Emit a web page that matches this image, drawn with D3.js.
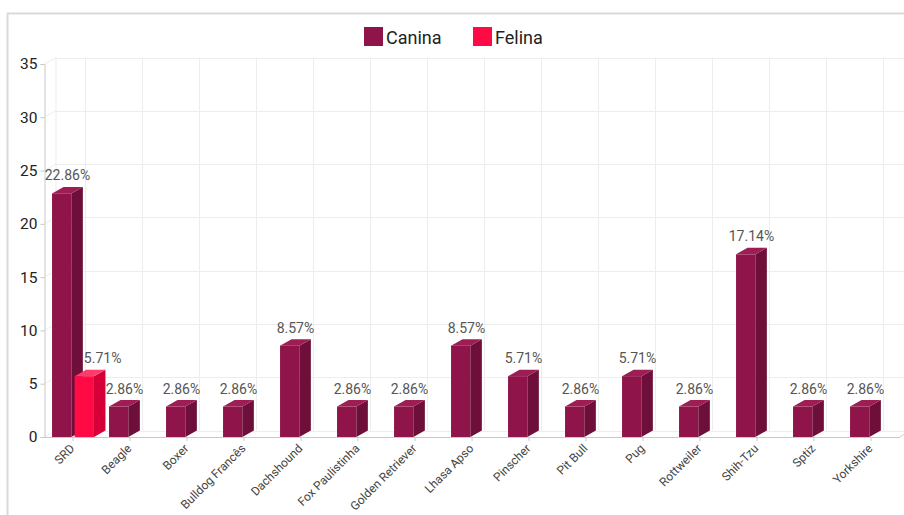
<!DOCTYPE html>
<html>
<head>
<meta charset="utf-8">
<script src="https://cdn.jsdelivr.net/npm/d3@7"></script>
<style>
  html, body { margin: 0; padding: 0; background: #fff; }
  svg { display: block; font-family: Roboto, "Noto Sans", sans-serif; }
</style>
</head>
<body>
<svg id="chart" width="904" height="515"></svg>
<script>
// Breeds (categories) and the share of each species, in percent
const categories = ["SRD", "Beagle", "Boxer", "Bulldog Francês", "Dachshound", "Fox Paulistinha",
  "Golden Retriever", "Lhasa Apso", "Pinscher", "Pit Bull", "Pug", "Rottweiler", "Shih-Tzu", "Sptiz", "Yorkshire"];
const seriesNames = ["Canina", "Felina"];
const canina = [22.86, 2.86, 2.86, 2.86, 8.57, 2.86, 2.86, 8.57, 5.71, 2.86, 5.71, 2.86, 17.14, 2.86, 2.86];
const felina = [5.71, null, null, null, null, null, null, null, null, null, null, null, null, null, null];
const yTicks = [0, 5, 10, 15, 20, 25, 30, 35];

// Face colours per series: front, side, top
const palette = {
  Canina: { front: "#8e1449", side: "#6d0f38", top: "#9e1d55" },
  Felina: { front: "#ff0a45", side: "#d50037", top: "#ff3b6a" }
};

const svg = d3.select("#chart");
const W = 904, H = 515;

// 3D depth offset
const dx = 11.5, dy = -6.5;

const x0 = 44.5, x1 = 899.5, yBase = 437, yTop = 64;

const x = d3.scaleBand().domain(categories).range([x0, x1]);
const xs = d3.scaleBand().domain(seriesNames).range([0, x.bandwidth()])
  .paddingInner(0.146).paddingOuter(0.334);
const y = d3.scaleLinear().domain([0, 35]).range([yBase, yTop]);

// Outer frame
svg.append("rect")
  .attr("x", 7.5).attr("y", 13.5).attr("width", W).attr("height", H)
  .attr("fill", "none").attr("stroke", "#dadada").attr("stroke-width", 2);

// Back-plane grid
const grid = svg.append("g").attr("stroke", "#ededed").attr("stroke-width", 1).attr("fill", "none");
yTicks.forEach(t => {
  const yy = Math.round(y(t) + dy) + 0.5;
  grid.append("line").attr("x1", x0 + dx).attr("x2", x1 + dx).attr("y1", yy).attr("y2", yy);
  grid.append("line").attr("x1", x0).attr("y1", y(t)).attr("x2", x0 + dx).attr("y2", y(t) + dy);
});
categories.forEach(c => {
  const xx = Math.round(x(c) + x.bandwidth() / 2 + dx) + 0.5;
  grid.append("line").attr("x1", xx).attr("x2", xx).attr("y1", y(35) + dy).attr("y2", yBase + dy);
});
grid.append("line").attr("x1", x0 + dx).attr("x2", x0 + dx).attr("y1", y(35) + dy).attr("y2", yBase + dy);

// Floor edge on the right
svg.append("line").attr("x1", x1).attr("y1", yBase).attr("x2", x1 + dx).attr("y2", yBase + dy)
  .attr("stroke", "#cfcfcf");

// Y axis
const yAxis = svg.append("g").attr("transform", `translate(${x0},0)`)
  .call(d3.axisLeft(y).tickValues(yTicks).tickSize(4).tickPadding(3).tickFormat(d3.format("d")));
yAxis.select(".domain").attr("stroke", "#c8c8c8");
yAxis.selectAll(".tick line").attr("stroke", "#c8c8c8");
yAxis.selectAll("text").attr("font-size", 15.5).attr("fill", "#222").attr("font-family", "Roboto");

// X axis
const xAxis = svg.append("g").attr("transform", `translate(0,${yBase})`)
  .call(d3.axisBottom(x).tickSize(4).tickSizeOuter(0));
xAxis.select(".domain").attr("stroke", "#c8c8c8");
xAxis.selectAll(".tick line").attr("stroke", "#c8c8c8");
xAxis.selectAll("text")
  .attr("font-size", 12).attr("fill", "#444").attr("font-family", "Roboto")
  .attr("text-anchor", "end")
  .attr("x", -7).attr("y", 6).attr("dy", "0.35em")
  .attr("transform", "rotate(-45)");

// 3D columns
const rows = categories.map((c, i) => ({ cat: c, values: [
  { series: "Canina", value: canina[i] },
  { series: "Felina", value: felina[i] }
].filter(d => d.value != null) }));

const bars = svg.append("g");
const labels = svg.append("g");
rows.forEach(r => {
  let prev = null;
  r.values.forEach(d => {
    const bx = x(r.cat) + xs(d.series);
    const bw = xs.bandwidth();
    const by = y(d.value);
    const col = palette[d.series];
    const g = bars.append("g");
    g.append("rect").attr("x", bx).attr("y", by).attr("width", bw).attr("height", yBase - by)
      .attr("fill", col.front);
    g.append("polygon")
      .attr("points", [[bx + bw, by], [bx + bw + dx, by + dy], [bx + bw + dx, yBase + dy], [bx + bw, yBase]].join(" "))
      .attr("fill", col.side);
    g.append("polygon")
      .attr("points", [[bx, by], [bx + dx, by + dy], [bx + bw + dx, by + dy], [bx + bw, by]].join(" "))
      .attr("fill", col.top);
    const t = labels.append("text")
      .attr("x", bx + (bw + dx) / 2).attr("y", by - 13)
      .attr("text-anchor", "middle").attr("font-size", 14).attr("fill", "#555")
      .text(d.value.toFixed(2) + "%");
    // keep the label clear of a taller neighbouring column on its left
    if (prev && prev.top < by - 13) {
      const w = t.node().getComputedTextLength();
      const left = bx + (bw + dx) / 2 - w / 2;
      if (left < prev.right + 1) t.attr("x", prev.right + 1 + w / 2);
    }
    prev = { right: bx + bw + dx, top: by + dy };
  });
});

// Legend
const legend = svg.append("g");
const legendItems = [{ name: "Canina", x: 364 }, { name: "Felina", x: 473 }];
legendItems.forEach(l => {
  legend.append("rect").attr("x", l.x).attr("y", 27).attr("width", 19).attr("height", 19)
    .attr("fill", palette[l.name].front);
  legend.append("text").attr("x", l.x + 22).attr("y", 43.5)
    .attr("font-size", 18).attr("fill", "#222").text(l.name);
});
</script>
</body>
</html>
